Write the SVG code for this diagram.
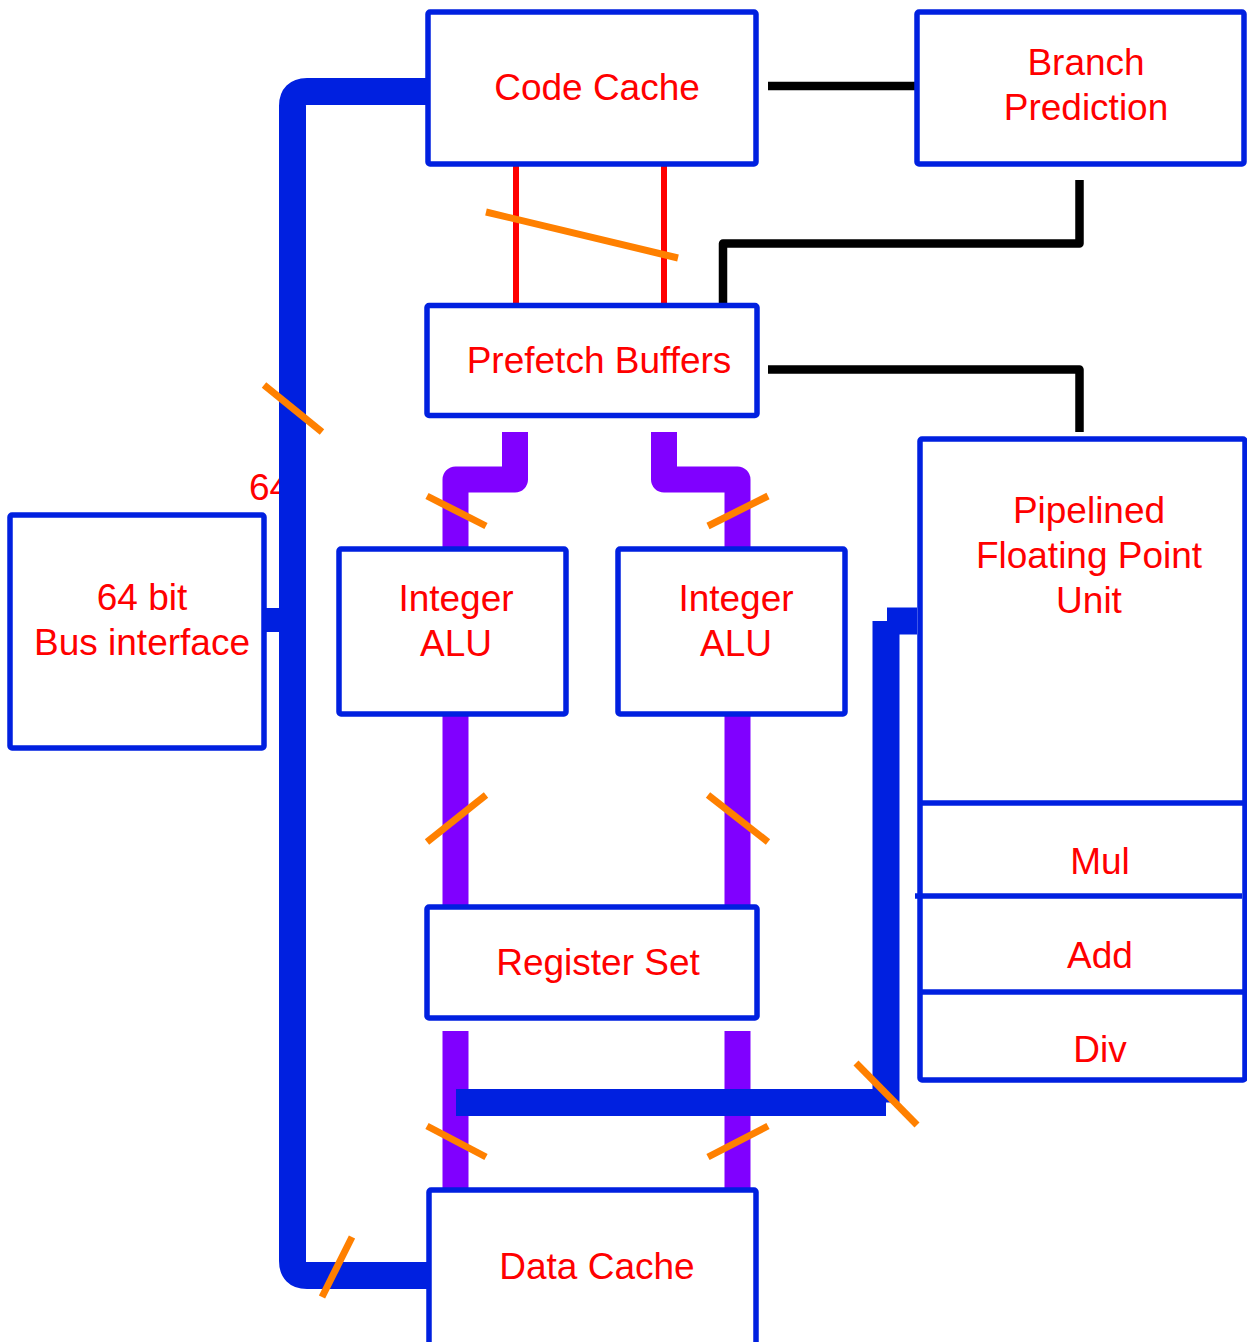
<svg xmlns="http://www.w3.org/2000/svg" width="1247" height="1342" viewBox="0 0 1247 1342">
<style>
.box{fill:#fff;stroke:#0020E0;stroke-width:5.5}
.div{stroke:#0020E0;stroke-width:5.5;fill:none}
.lbl{font-family:"Liberation Sans",Arial,sans-serif;font-size:37px;fill:#FF0000;text-anchor:middle}
.bus{stroke:#0020E0;stroke-width:27;fill:none}
.pur{stroke:#8000FF;stroke-width:26;fill:none;stroke-linejoin:round}
.blk{stroke:#000;stroke-width:8.5;fill:none}
.red{stroke:#FF0000;stroke-width:6;fill:none}
.tick{stroke:#FF8000;stroke-width:7;fill:none}
</style>
<g id="connectors">
<text class="lbl" x="249" y="500" style="text-anchor:start">64</text>
<path class="pur" d="M515 432 V479.5 H455.5 V549"/>
<path class="pur" d="M664 432 V479.5 H737.5 V549"/>
<line class="pur" x1="455.5" y1="712" x2="455.5" y2="908"/>
<line class="pur" x1="737.5" y1="712" x2="737.5" y2="908"/>
<line class="pur" x1="455.5" y1="1031" x2="455.5" y2="1192"/>
<line class="pur" x1="737.5" y1="1031" x2="737.5" y2="1192"/>
<path class="bus" d="M428 91.5 H307 Q292.5 91.5 292.5 106 V1261 Q292.5 1275.5 307 1275.5 H428"/>
<rect x="262" y="608" width="24" height="24" fill="#0020E0"/>
<line class="bus" x1="456" y1="1102.5" x2="886" y2="1102.5"/>
<line class="bus" x1="886" y1="621" x2="886" y2="1102.5"/>
<line class="bus" x1="887" y1="621" x2="917" y2="621"/>
<line class="red" x1="516" y1="164" x2="516" y2="306"/>
<line class="red" x1="664" y1="164" x2="664" y2="306"/>
<line class="blk" x1="768" y1="86" x2="917" y2="86"/>
<path class="blk" d="M1079.5 180 V243.5 H723 V305" stroke-linejoin="round"/>
<path class="blk" d="M768 369.5 H1079.5 V432" stroke-linejoin="round"/>
<line class="tick" x1="264" y1="385" x2="322" y2="432"/>
<line class="tick" x1="486" y1="212" x2="678" y2="258"/>
<line class="tick" x1="427" y1="496" x2="486" y2="526"/>
<line class="tick" x1="708" y1="526" x2="768" y2="496"/>
<line class="tick" x1="427" y1="842" x2="486" y2="795"/>
<line class="tick" x1="708" y1="795" x2="768" y2="842"/>
<line class="tick" x1="427" y1="1126" x2="486" y2="1157"/>
<line class="tick" x1="708" y1="1157" x2="768" y2="1126"/>
<line class="tick" x1="856" y1="1063" x2="917" y2="1125"/>
<line class="tick" x1="352" y1="1237" x2="322" y2="1297"/>
</g>
<g id="code-cache">
<rect class="box" x="428" y="12" width="328" height="152" rx="2"/>
<text class="lbl" x="597" y="100">Code Cache</text>
</g>
<g id="branch-prediction">
<rect class="box" x="917" y="12" width="327" height="152" rx="2"/>
<text class="lbl" x="1086" y="75">Branch</text>
<text class="lbl" x="1086" y="120">Prediction</text>
</g>
<g id="prefetch-buffers">
<rect class="box" x="427" y="305.5" width="330" height="110" rx="2"/>
<text class="lbl" x="599" y="373">Prefetch Buffers</text>
</g>
<g id="integer-alu-1">
<rect class="box" x="339" y="549" width="227" height="165" rx="2"/>
<text class="lbl" x="456" y="611">Integer</text>
<text class="lbl" x="456" y="656">ALU</text>
</g>
<g id="integer-alu-2">
<rect class="box" x="618" y="549" width="227" height="165" rx="2"/>
<text class="lbl" x="736" y="611">Integer</text>
<text class="lbl" x="736" y="656">ALU</text>
</g>
<g id="bus-interface">
<rect class="box" x="10" y="515" width="254" height="233" rx="2"/>
<text class="lbl" x="142" y="610">64 bit</text>
<text class="lbl" x="142" y="655">Bus interface</text>
</g>
<g id="fpu">
<rect class="box" x="920" y="439" width="325" height="641" rx="2"/>
<text class="lbl" x="1089" y="523">Pipelined</text>
<text class="lbl" x="1089" y="568">Floating Point</text>
<text class="lbl" x="1089" y="613">Unit</text>
<line class="div" x1="920" y1="803" x2="1245" y2="803"/>
<line class="div" x1="915" y1="896" x2="1242" y2="896"/>
<line class="div" x1="920" y1="992" x2="1245" y2="992"/>
<text class="lbl" x="1100" y="874">Mul</text>
<text class="lbl" x="1100" y="968">Add</text>
<text class="lbl" x="1100" y="1062">Div</text>
</g>
<g id="register-set">
<rect class="box" x="427" y="907" width="330" height="111" rx="2"/>
<text class="lbl" x="598" y="975">Register Set</text>
</g>
<g id="data-cache">
<rect class="box" x="429" y="1190" width="327" height="160" rx="2"/>
<text class="lbl" x="597" y="1279">Data Cache</text>
</g>
</svg>
